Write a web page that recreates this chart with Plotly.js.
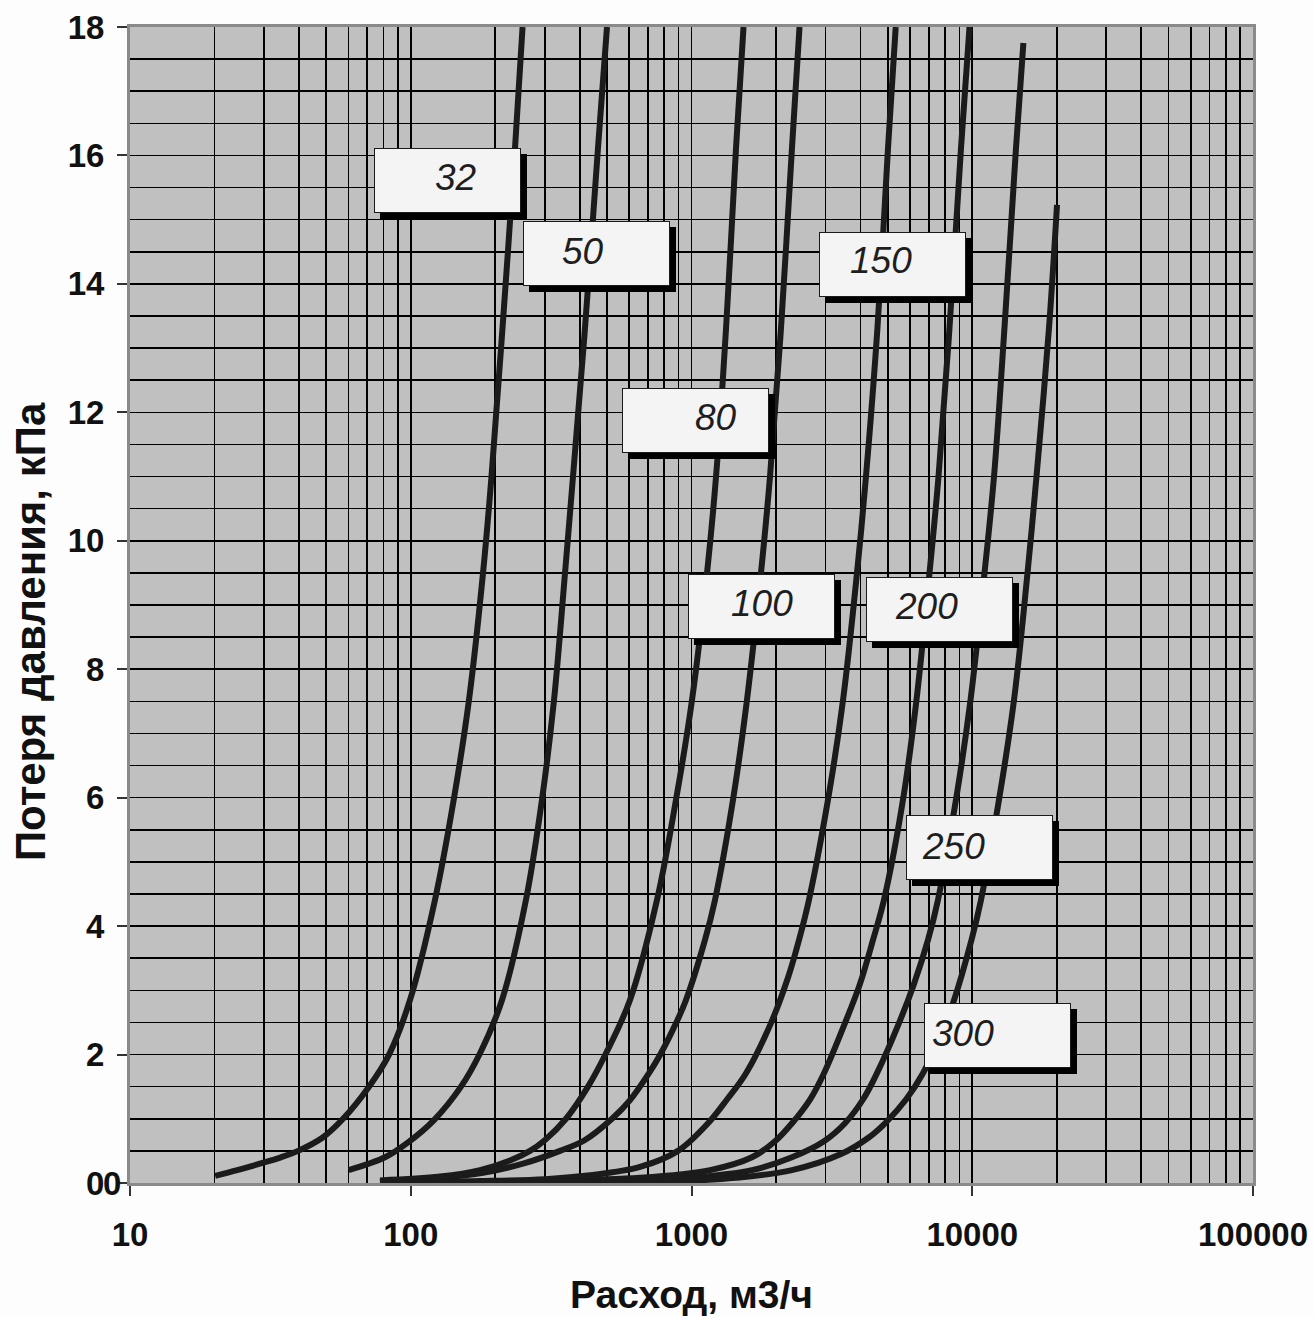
<!DOCTYPE html>
<html>
<head>
<meta charset="utf-8">
<script src="https://cdn.plot.ly/plotly-3.0.1.min.js"></script>
<style>html,body{margin:0;padding:0;background:#fdfdfd;}</style>
</head>
<body>
<div id="chart" style="width:1314px;height:1317px;"></div>
<script>
// ---- data (flow, m3/h  vs  pressure loss, kPa) ----
const seriesNames = ['32', '50', '80', '100', '150', '200', '250', '300'];

const flow32 = [20.1, 24.1, 29.0, 34.5, 39.7, 48.3, 57.4, 71.0, 83.7, 99.4, 122, 141.4, 161.2, 180.9, 193.9, 212.3, 235.2, 250.2];
const loss32 = [0.11, 0.2, 0.3, 0.4, 0.5, 0.7, 1.0, 1.5, 2.0, 2.85, 4.41, 5.9, 7.52, 9.5, 11, 13.32, 16.12, 18];

const flow50 = [60.1, 81.0, 97.0, 121.0, 151.0, 176.5, 211.4, 257.3, 293.4, 323.8, 354.4, 378.4, 417.6, 464.5, 500.0];
const loss50 = [0.2, 0.4, 0.62, 0.98, 1.5, 2.02, 2.85, 4.41, 5.97, 7.52, 9.5, 11, 13.32, 16.12, 18];

const flow80 = [77.7, 127.1, 176.5, 225.7, 265.9, 300.8, 357.3, 427.9, 496.0, 603.9, 753.8, 880.9, 1004, 1136, 1223, 1328, 1441, 1532];
const loss80 = [0.04, 0.1, 0.2, 0.35, 0.5, 0.67, 1.0, 1.5, 2.02, 2.85, 4.41, 5.97, 7.52, 9.5, 11, 13.32, 16.12, 18];

const flow100 = [77.7, 127.1, 176.5, 251.0, 340.1, 417.6, 521.1, 603.9, 705.7, 778.5, 880.9, 955.9, 1117, 1213, 1406, 1576, 1768, 1904, 2084, 2280, 2425];
const loss100 = [0.02, 0.08, 0.15, 0.3, 0.5, 0.67, 1.0, 1.29, 1.71, 2.02, 2.49, 2.85, 3.785, 4.41, 5.97, 7.52, 9.5, 11, 13.32, 16.12, 18];

const flow150 = [77.7, 176.5, 300.8, 435.0, 655.4, 895.3, 1145, 1338, 1564, 1919, 2207, 2415, 2621, 3064, 3465, 3886, 4183, 4597, 5012, 5338];
const loss150 = [0.01, 0.03, 0.06, 0.12, 0.25, 0.5, 0.93, 1.3, 1.71, 2.49, 3.2, 3.785, 4.41, 5.97, 7.52, 9.5, 11, 13.32, 16.12, 18];

const flow200 = [77.7, 288.7, 655.4, 1164, 1642, 1984, 2280, 2643, 2965, 3521, 3982, 4431, 4850, 5668, 6329, 7043, 7583, 8299, 9120, 9777];
const loss200 = [0.01, 0.03, 0.08, 0.2, 0.4, 0.65, 0.93, 1.3, 1.71, 2.49, 3.1, 3.785, 4.41, 5.97, 7.52, 9.5, 11, 13.32, 16.12, 18];

const flow250 = [77.7, 556.3, 987.9, 1642, 2280, 2965, 3521, 4081, 4578, 5483, 6201, 6957, 7551, 8753, 9858, 11058, 11953, 13028, 14318, 15211];
const loss250 = [0.01, 0.03, 0.08, 0.2, 0.4, 0.65, 0.93, 1.3, 1.71, 2.49, 3.1, 3.785, 4.41, 5.97, 7.52, 9.5, 11, 13.32, 16.12, 17.75];

const flow300 = [77.7, 880.9, 1441, 2280, 3408, 4254, 4890, 5808, 6676, 7740, 8542, 9938, 10745, 12456, 14082, 15735, 16937, 18770, 20042];
const loss300 = [0.01, 0.03, 0.08, 0.2, 0.45, 0.7, 0.93, 1.3, 1.71, 2.3, 2.8, 3.785, 4.41, 5.97, 7.52, 9.5, 11, 13.32, 15.23];

const xTickValues = [10, 100, 1000, 10000, 100000];
const xTickLabels = ['10', '100', '1000', '10000', '100000'];
const yTickValues = [0, 2, 4, 6, 8, 10, 12, 14, 16, 18];
const yTickLabels = ['0', '2', '4', '6', '8', '10', '12', '14', '16', '18'];
const extraZeroLabel = '0';   // the original shows a second "0" right next to the y-axis origin

const xTitle = 'Расход, м3/ч';
const yTitle = 'Потеря давления, кПа';

// ---- styling / placement (not data) ----
const flows = [flow32, flow50, flow80, flow100, flow150, flow200, flow250, flow300];
const losses = [loss32, loss50, loss80, loss100, loss150, loss200, loss250, loss300];

// label boxes: [boxX, boxY, textX, textY] in paper fractions
const labelPlacement = [
  [0.2827, 0.8676, 0.2903, 0.8694],
  [0.4152, 0.8042, 0.4038, 0.8054],
  [0.5040, 0.6596, 0.5218, 0.6626],
  [0.5623, 0.4991, 0.5628, 0.5017],
  [0.6790, 0.7948, 0.6687, 0.7984],
  [0.7208, 0.4961, 0.7097, 0.4983],
  [0.7562, 0.2898, 0.7334, 0.2915],
  [0.7725, 0.1276, 0.7415, 0.1289]
];

const FONT = 'Arial, "Liberation Sans", Helvetica, sans-serif';

const traces = seriesNames.map((name, i) => ({
  type: 'scatter',
  mode: 'lines',
  name: name,
  x: flows[i],
  y: losses[i],
  line: {color: '#1b1b1b', width: 6, shape: 'spline', smoothing: 1.0},
  hoverinfo: 'x+y+name'
}));

const annotations = [];
seriesNames.forEach((name, i) => {
  const p = labelPlacement[i];
  const boxCommon = {
    xref: 'paper', yref: 'paper', x: p[0], y: p[1],
    xanchor: 'center', yanchor: 'middle',
    showarrow: false, text: ' ', width: 145, height: 63,
    borderpad: 0, borderwidth: 1
  };
  annotations.push(Object.assign({}, boxCommon, {
    bgcolor: '#000000', bordercolor: '#000000', xshift: 6, yshift: -6
  }));
  annotations.push(Object.assign({}, boxCommon, {
    bgcolor: '#f4f4f4', bordercolor: '#1a1a1a'
  }));
  annotations.push({
    xref: 'paper', yref: 'paper', x: p[2], y: p[3],
    xanchor: 'center', yanchor: 'middle', showarrow: false,
    text: name,
    font: {family: FONT, size: 37, color: '#1e1e1e', style: 'italic'}
  });
});

// y-axis title (rotated text, centred where the original has it)
annotations.push({
  xref: 'paper', yref: 'paper', x: -0.0890, y: 0.4766,
  xanchor: 'center', yanchor: 'middle', showarrow: false,
  textangle: -90,
  text: yTitle,
  font: {family: FONT, size: 42, weight: 'bold', color: '#111111'}
});

// second zero at the origin
annotations.push({
  xref: 'paper', yref: 'y', x: -0.0065, y: 0,
  xanchor: 'right', yanchor: 'middle', showarrow: false,
  text: extraZeroLabel,
  font: {family: FONT, size: 33, weight: 'bold', color: '#111111'}
});

const gridColor = '#000000';

const layout = {
  width: 1314,
  height: 1317,
  margin: {l: 130, r: 61, t: 27, b: 134},
  paper_bgcolor: '#fdfdfd',
  plot_bgcolor: '#c0c0c0',
  showlegend: false,
  font: {family: FONT, color: '#111111'},
  xaxis: {
    type: 'log',
    range: [1, 5],
    tickmode: 'array',
    tickvals: xTickValues,
    ticktext: xTickLabels,
    ticks: 'outside', ticklen: 10, tickwidth: 2, tickcolor: '#333333',
    ticklabelstandoff: 10,
    tickfont: {family: FONT, size: 33, weight: 'bold', color: '#111111'},
    showgrid: true, gridcolor: gridColor, gridwidth: 1.6,
    minor: {dtick: 'D1', showgrid: true, gridcolor: gridColor, gridwidth: 1.6, ticks: ''},
    showline: true, linecolor: '#8a8a8a', linewidth: 3, mirror: true,
    zeroline: false,
    title: {text: xTitle, font: {family: FONT, size: 39, weight: 'bold', color: '#111111'}, standoff: 30}
  },
  yaxis: {
    range: [0, 18],
    tickmode: 'array',
    tickvals: yTickValues,
    ticktext: yTickLabels,
    ticks: 'outside', ticklen: 10, tickwidth: 2, tickcolor: '#333333',
    ticklabelstandoff: 6,
    tickfont: {family: FONT, size: 33, weight: 'bold', color: '#111111'},
    showgrid: true, gridcolor: gridColor, gridwidth: 1.6,
    minor: {dtick: 0.5, showgrid: true, gridcolor: gridColor, gridwidth: 1.6, ticks: ''},
    showline: true, linecolor: '#8a8a8a', linewidth: 3, mirror: true,
    zeroline: false
  },
  annotations: annotations
};

Plotly.newPlot('chart', traces, layout, {displayModeBar: false, staticPlot: true});
</script>
</body>
</html>
